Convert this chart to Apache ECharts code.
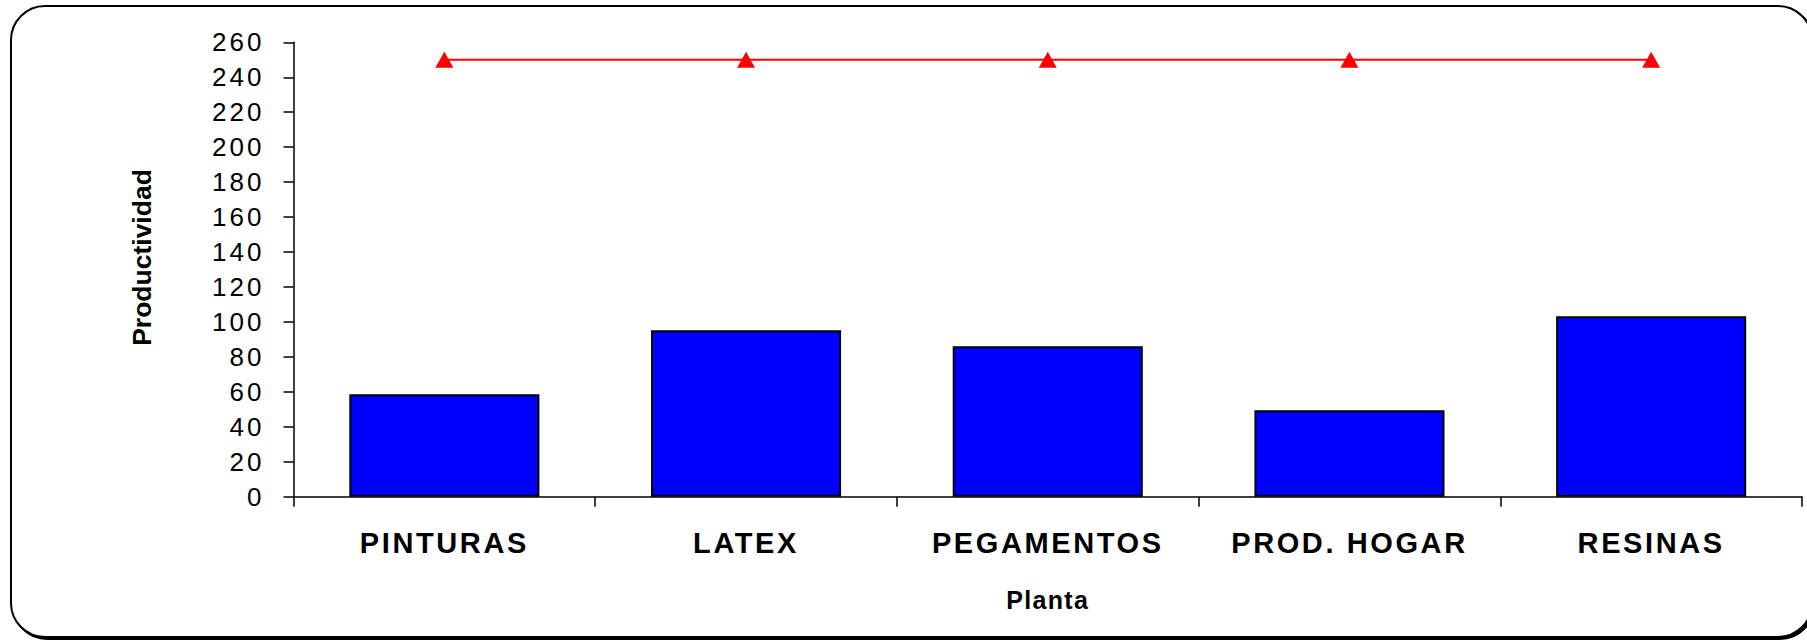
<!DOCTYPE html>
<html>
<head>
<meta charset="utf-8">
<title>Productividad por planta</title>
<script src="https://cdn.jsdelivr.net/npm/echarts@6/dist/echarts.min.js"></script>
<style>
  html, body { margin: 0; padding: 0; background: #ffffff; }
  #chart { width: 1807px; height: 642px; }
  /* Espaciado de letras de los textos del gráfico (renderer SVG) */
  #chart svg text[style*="29px"] { letter-spacing: 2.6px; }
  #chart svg text[style*="26px"] { letter-spacing: 3px; }
  #chart svg text[style*="25px"] { letter-spacing: 1.3px; }
</style>
</head>
<body>
<div id="chart"></div>
<script>
// Plantas (categorías del eje X)
const plantas = ['PINTURAS', 'LATEX', 'PEGAMENTOS', 'PROD. HOGAR', 'RESINAS'];
// Productividad medida por planta (barras)
const productividad = [58.6, 95.2, 86.1, 49.4, 103.2];
// Nivel de referencia (línea roja)
const referencia = [250, 250, 250, 250, 250];
// Escala del eje Y
const yMin = 0;
const yMax = 260;
const yPaso = 20;

const fuente = "'Liberation Sans', Arial, Helvetica, sans-serif";

const chart = echarts.init(document.getElementById('chart'), null, { renderer: 'svg' });

chart.setOption({
  backgroundColor: '#ffffff',
  animation: false,
  graphic: [
    {
      type: 'rect',
      z: -10,
      silent: true,
      shape: { x: 11, y: 6, width: 1801, height: 631, r: 34 },
      style: {
        fill: '#ffffff',
        stroke: '#000000',
        lineWidth: 2,
        shadowColor: '#000000',
        shadowBlur: 0,
        shadowOffsetX: 2,
        shadowOffsetY: 2
      }
    }
  ],
  grid: {
    left: 293.5,
    right: 5,
    top: 42.3,
    bottom: 145.3,
    containLabel: false
  },
  xAxis: {
    type: 'category',
    data: plantas,
    boundaryGap: true,
    name: 'Planta',
    nameLocation: 'middle',
    nameGap: 91,
    nameTextStyle: {
      fontFamily: fuente,
      fontSize: 25,
      fontWeight: 'bold',
      color: '#000000'
    },
    axisLine: { show: true, lineStyle: { color: '#000000', width: 1.5 } },
    axisTick: {
      show: true,
      alignWithLabel: false,
      inside: false,
      length: 10,
      lineStyle: { color: '#000000', width: 1.5 }
    },
    axisLabel: {
      margin: 32,
      fontFamily: fuente,
      fontSize: 29,
      fontWeight: 'bold',
      color: '#000000'
    },
    splitLine: { show: false }
  },
  yAxis: {
    type: 'value',
    min: yMin,
    max: yMax,
    interval: yPaso,
    name: 'Productividad',
    nameLocation: 'middle',
    nameGap: 138,
    nameRotate: 90,
    nameTextStyle: {
      fontFamily: fuente,
      fontSize: 26.5,
      fontWeight: 'bold',
      color: '#000000',
      padding: [0, 0, 0, 24]
    },
    axisLine: { show: true, lineStyle: { color: '#000000', width: 1.5 } },
    axisTick: {
      show: true,
      inside: false,
      length: 10,
      lineStyle: { color: '#000000', width: 1.5 }
    },
    axisLabel: {
      margin: 29,
      fontFamily: fuente,
      fontSize: 26,
      color: '#000000'
    },
    splitLine: { show: false }
  },
  series: [
    {
      name: 'Productividad',
      type: 'bar',
      data: productividad,
      barWidth: '63%',
      itemStyle: {
        color: '#0000ff',
        borderColor: '#000000',
        borderWidth: 2
      },
      z: 2
    },
    {
      name: 'Referencia',
      type: 'line',
      data: referencia,
      symbol: 'triangle',
      symbolSize: [18, 16],
      showSymbol: true,
      lineStyle: { color: '#ff0000', width: 2 },
      itemStyle: { color: '#ff0000', borderWidth: 0 },
      z: 3
    }
  ]
});
</script>
</body>
</html>
